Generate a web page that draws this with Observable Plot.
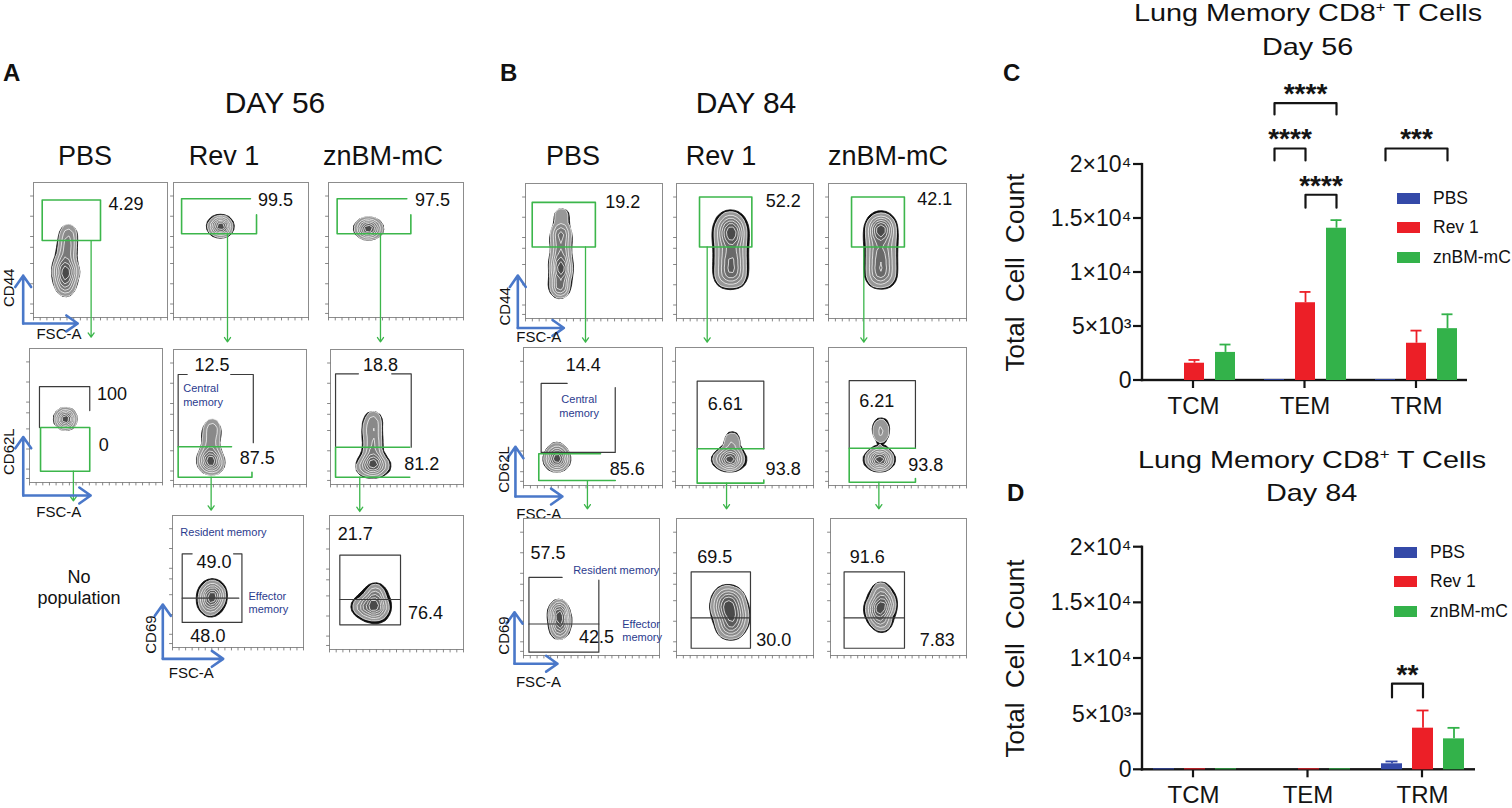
<!DOCTYPE html>
<html><head><meta charset="utf-8">
<script src="https://cdn.jsdelivr.net/npm/d3@7"></script>
<script src="https://cdn.jsdelivr.net/npm/@observablehq/plot@0.6"></script>
<style>
body{margin:0;background:#fff;font-family:"Liberation Sans",Arial,Helvetica,sans-serif;}
#fig{position:relative;width:1512px;height:808px;overflow:hidden;background:#fff;}
.abs{position:absolute;white-space:nowrap;color:#111;line-height:1;}
.lg-swatch{height:29.5px;margin:0 !important;padding:0 !important;display:flex;align-items:center;}
.lg-swatch > svg{margin-right:13px !important;}
.lg-swatch-label, .lg-swatch span{overflow:visible !important;text-overflow:clip !important;}
</style></head><body><div id="fig"></div>
<script>
// ---------------- DATA: bar charts ----------------
const categories = ["TCM", "TEM", "TRM"];
const groups = ["PBS", "Rev 1", "znBM-mC"];
const groupColors = ["#3449a8", "#ec1f27", "#33b24a"];
const yTicks = [0, 5000, 10000, 15000, 20000];
const yTickLabels = ["0", "5×10³", "1×10⁴", "1.5×10⁴", "2×10⁴"];

// Day 56 (panel C): means and upper SEM per category TCM, TEM, TRM
const day56PBS = [0, 80, 80];
const day56Rev1 = [1600, 7200, 3450];
const day56Zn = [2600, 14100, 4800];
const day56PBSErr = [0, 0, 0];
const day56Rev1Err = [300, 1000, 1170];
const day56ZnErr = [730, 750, 1330];
const day56Sig = [
  {cat: "TEM", from: "PBS", to: "znBM-mC", label: "****", level: 25680, low: 24630},
  {cat: "TEM", from: "PBS", to: "Rev 1", label: "****", level: 21480, low: 20370},
  {cat: "TEM", from: "Rev 1", to: "znBM-mC", label: "****", level: 17200, low: 16000},
  {cat: "TRM", from: "PBS", to: "znBM-mC", label: "***", level: 21480, low: 20370}
];

// Day 84 (panel D)
const day84PBS = [90, 0, 540];
const day84Rev1 = [90, 90, 3740];
const day84Zn = [90, 90, 2780];
const day84PBSErr = [0, 0, 210];
const day84Rev1Err = [0, 0, 1590];
const day84ZnErr = [0, 0, 990];
const day84Sig = [
  {cat: "TRM", from: "PBS", to: "Rev 1", label: "**", level: 7750, low: 6500}
];

// ---------------- DATA: flow cytometry panels (FSC-A / marker, 0-100 display units) ----------------
const flowPercents = [
  {panel:"a1", text:"4.29", x:69, y:84},
  {panel:"a2", text:"99.5", x:75.5, y:86.7},
  {panel:"a3", text:"97.5", x:77, y:86.7},
  {panel:"a4", text:"100", x:62, y:66},
  {panel:"a4", text:"0", x:55.9, y:27.6},
  {panel:"a5", text:"12.5", x:29, y:88},
  {panel:"a5", text:"87.5", x:63, y:19.5},
  {panel:"a6", text:"18.8", x:37.6, y:88.7},
  {panel:"a6", text:"81.2", x:68.6, y:15.3},
  {panel:"a8", text:"49.0", x:31.6, y:64.6},
  {panel:"a8", text:"48.0", x:27, y:8.3},
  {panel:"a9", text:"21.7", x:19.2, y:86},
  {panel:"a9", text:"76.4", x:71.6, y:27},
  {panel:"b1", text:"19.2", x:71, y:86},
  {panel:"b2", text:"52.2", x:78, y:87},
  {panel:"b3", text:"42.1", x:77, y:88},
  {panel:"b4", text:"14.4", x:43, y:87},
  {panel:"b4", text:"85.6", x:74.6, y:12},
  {panel:"b5", text:"6.61", x:36, y:59},
  {panel:"b5", text:"93.8", x:78, y:12},
  {panel:"b6", text:"6.21", x:35, y:61},
  {panel:"b6", text:"93.8", x:70.5, y:15},
  {panel:"b7", text:"57.5", x:18, y:74.7},
  {panel:"b7", text:"42.5", x:53.7, y:13.4},
  {panel:"b8", text:"69.5", x:28, y:72},
  {panel:"b8", text:"30.0", x:71, y:11.5},
  {panel:"b9", text:"91.6", x:27, y:72},
  {panel:"b9", text:"7.83", x:78.5, y:11}
];

const flowSubsetNames = [
  {panel:"a5", text:"Central", x:7.3, y:71, anchor:"start"},
  {panel:"a5", text:"memory", x:7.3, y:61, anchor:"start"},
  {panel:"a8", text:"Resident memory", x:6, y:87, anchor:"start"},
  {panel:"a8", text:"Effector", x:58, y:38.6, anchor:"start"},
  {panel:"a8", text:"memory", x:58, y:28.5, anchor:"start"},
  {panel:"b4", text:"Central", x:40, y:62, anchor:"middle"},
  {panel:"b4", text:"memory", x:40, y:52.4, anchor:"middle"},
  {panel:"b7", text:"Resident memory", x:36.5, y:62, anchor:"start"},
  {panel:"b7", text:"Effector", x:72.6, y:23, anchor:"start"},
  {panel:"b7", text:"memory", x:72.6, y:13.4, anchor:"start"}
];

const flowAxisNames = [
  {panel:"a1", text:"CD44", x:-18.4, y:22, rotate:-90},
  {panel:"a1", text:"FSC-A", x:19, y:-12.6, rotate:0},
  {panel:"a4", text:"CD62L", x:-15.6, y:23, rotate:-90},
  {panel:"a4", text:"FSC-A", x:22, y:-22, rotate:0},
  {panel:"a8", text:"CD69", x:-16.3, y:9.8, rotate:-90},
  {panel:"a8", text:"FSC-A", x:14.3, y:-19.5, rotate:0},
  {panel:"b1", text:"CD44", x:-14.6, y:9, rotate:-90},
  {panel:"b1", text:"FSC-A", x:9.7, y:-13.8, rotate:0},
  {panel:"b4", text:"CD62L", x:-13.7, y:11.6, rotate:-90},
  {panel:"b4", text:"FSC-A", x:11, y:-20.5, rotate:0},
  {panel:"b7", text:"CD69", x:-14, y:14.6, rotate:-90},
  {panel:"b7", text:"FSC-A", x:11, y:-19.5, rotate:0}
];

const flowAxisArrows = [
  {panel:"a1", x:-7.7, y:-4.4, top:31, right:33},
  {panel:"a4", x:-4.7, y:-9.7, top:34, right:46},
  {panel:"a8", x:-7.4, y:-8.6, top:32.6, right:38.7},
  {panel:"b1", x:-5.6, y:-7, top:31.8, right:28},
  {panel:"b4", x:-5.8, y:-8, top:28, right:28},
  {panel:"b7", x:-6.6, y:-6, top:31.6, right:25}
];

const flowArrows = [
  {panel:"a1", x:43, y1:57, y2:-14.6},
  {panel:"a2", x:40, y1:62, y2:-18},
  {panel:"a3", x:38.5, y1:62, y2:-18},
  {panel:"a4", x:33, y1:8.4, y2:-13.7},
  {panel:"a5", x:28.3, y1:5.4, y2:-19},
  {panel:"a6", x:22, y1:5.4, y2:-20},
  {panel:"b1", x:43.8, y1:53, y2:-17.5},
  {panel:"b2", x:22.4, y1:53, y2:-17.5},
  {panel:"b3", x:25.6, y1:53, y2:-17.5},
  {panel:"b4", x:46, y1:3.6, y2:-16.9},
  {panel:"b5", x:37, y1:1.7, y2:-16.9},
  {panel:"b6", x:36.5, y1:2.4, y2:-16.9}
];

const flowGates = [
  {panel:"a1", kind:"green", pts:[[6.5,57],[50,57],[50,87],[6.5,87],[6.5,57]]},
  {panel:"a2", kind:"green", pts:[[57,88],[6,88],[6,62],[61.5,62],[61.5,76]]},
  {panel:"a3", kind:"green", pts:[[58,88],[6.4,88],[6.4,62],[61,62],[61,76]]},
  {panel:"a4", kind:"black", pts:[[7.5,41],[7.5,71.6],[45.3,71.6],[45.3,53.7]]},
  {panel:"a4", kind:"green", pts:[[8.3,41],[45.3,41],[45.3,8.4],[8.3,8.4],[8.3,41]]},
  {panel:"a5", kind:"black", pts:[[3.5,28],[3.5,81.5],[10.3,81.5]]},
  {panel:"a5", kind:"black", pts:[[43,81.5],[60,81.5],[60,31]]},
  {panel:"a5", kind:"green", pts:[[43.6,28],[3.5,28],[3.5,5.4],[59,5.4],[59,9]]},
  {panel:"a6", kind:"black", pts:[[3.8,27.6],[3.8,82],[21,82]]},
  {panel:"a6", kind:"black", pts:[[46,82],[60.7,82],[60.7,27.6]]},
  {panel:"a6", kind:"green", pts:[[59.6,27.6],[3.8,27.6],[3.8,5.4],[59.6,5.4]]},
  {panel:"a8", kind:"black", pts:[[15,71],[7.4,71],[7.4,19],[53,19],[53,71],[46.6,71]]},
  {panel:"a8", kind:"black", pts:[[7.4,37.4],[50.6,37.4]]},
  {panel:"a9", kind:"black", pts:[[7.7,18.4],[53,18.4],[53,70.4],[7.7,70.4],[7.7,18.4]]},
  {panel:"a9", kind:"black", pts:[[7.7,37.3],[53,37.3]]},
  {panel:"b1", kind:"green", pts:[[4.9,53],[51,53],[51,86],[4.9,86],[4.9,53]]},
  {panel:"b2", kind:"green", pts:[[16.8,53],[55,53],[55,90],[16.8,90],[16.8,53]]},
  {panel:"b3", kind:"green", pts:[[16.7,53],[55,53],[55,90],[16.7,90],[16.7,53]]},
  {panel:"b4", kind:"black", pts:[[31.4,74],[12.7,74],[12.7,24],[66,24],[66,71]]},
  {panel:"b4", kind:"green", pts:[[55.4,23],[11,23],[11,3.6],[66,3.6]]},
  {panel:"b5", kind:"black", pts:[[15.7,26.6],[15.7,75.6],[64,75.6],[64,26.6]]},
  {panel:"b5", kind:"green", pts:[[64,26.6],[15.7,26.6],[15.7,1.7],[64,1.7],[64,4]]},
  {panel:"b6", kind:"black", pts:[[15,27],[15,76],[63,76],[63,27]]},
  {panel:"b6", kind:"green", pts:[[63,27],[15,27],[15,2.4],[63,2.4],[63,5]]},
  {panel:"b7", kind:"black", pts:[[28.4,57],[4,57],[4,2.4],[55.4,2.4],[55.4,55]]},
  {panel:"b7", kind:"black", pts:[[4,23],[55.4,23]]},
  {panel:"b8", kind:"black", pts:[[10.7,5.3],[54,5.3],[54,61],[10.7,61],[10.7,5.3]]},
  {panel:"b8", kind:"black", pts:[[10.7,27.5],[54,27.5]]},
  {panel:"b9", kind:"black", pts:[[10,5.3],[54.4,5.3],[54.4,61],[10,61],[10,5.3]]},
  {panel:"b9", kind:"black", pts:[[10,27.5],[54.4,27.5]]}
];

// events (read along each population's shape)
const flowCells = {
  a1: [[26,65],[26,61],[25.5,57],[25,53],[25,49],[24.5,46],[24,43],[23,40],[24,37],[24,35],[20,36],[28,35],[21,31],[27,32],[24,30],[23,28],[24,25],[24,23],[24,21]],
  a2: [[30,67.6],[33,67.6],[36,67.6],[39,67.6],[35,68.5],[35,66.5],[35,67.6]],
  a3: [[24,66],[27,66],[30,66],[33,66],[36,66],[30,67],[30,65],[28,66]],
  a4: [[27,47.5],[26,48],[28,47],[27,47.5]],
  a5: [[29,45],[29,41],[28.5,38],[28,34],[28,30],[28,26],[28,22],[28,17],[24,16.5],[32,16.5],[28,20],[28,13],[25,19],[31,14],[28,17],[28,17]],
  a6: [[32,50],[32,46],[31,42],[31,38],[32,34],[32,30],[32,26],[31,22],[32,18],[32,14],[27,14],[37,14],[24,13],[40,14],[32,17],[32,11],[32,14]],
  a8: [[30,38],[30,43],[30,32],[27,40],[33,36],[30,46],[29,29],[30,38],[30,38],[26,34],[34,42]],
  a9: [[33,34],[27,33],[38,34],[22,32],[33,41],[34,27],[35,43],[33,34],[29,29],[38,29]],
  b1: [[26,66],[26,62],[25.5,58],[26,53],[26,48],[25,43],[26,38],[26,33],[25,28],[25,24],[25,21],[26,40],[26,36],[26.3,76.6]],
  b2: [[35,29],[35,34],[36,40],[35,46],[36,52],[35,58],[35,63],[36,68],[37,72],[44,29],[43,34],[44,40],[43,46],[44,52],[43,58],[44,63],[43,68],[42,72],[40,62],[40,62],[40,45],[40,35]],
  b3: [[34,29],[35,34],[34,40],[35,46],[34,52],[34,58],[35,63],[35,68],[36,71],[42,29],[41,34],[42,40],[41,46],[42,52],[42,58],[41,63],[41,68],[40,71],[38,64],[38,64],[38,45],[38,35]],
  b4: [[24,19],[21,19],[27,19],[24,22],[24,27],[24,16],[24,19]],
  b5: [[31,19],[35,19],[39,19],[43,19],[46,19],[39,21],[39,17],[39,19],[41,29],[41,35]],
  b6: [[31,19],[34,19],[37,19],[40,19],[42,19],[37,21],[37,17],[37,19],[38,35],[38,40],[38,45]],
  b7: [[26,36],[26,32],[27,28],[27,24],[27,20],[26,17],[25,30],[27,26]],
  b8: [[39,32],[33,32],[45,32],[39,40],[39,24],[35,44],[43,42],[36,20],[42,19],[39,32],[33,38],[45,26]],
  b9: [[37,35],[32,36],[41,35],[37,43],[37,27],[37,48],[38,23],[37,35],[33,30],[41,40]]
};
const flowBandwidth = {a1:4,a2:3.5,a3:3.5,a4:3.5,a5:4,a6:4,a8:4.5,a9:4.5,b1:4,b2:5,b3:5,b4:4,b5:4,b6:4,b7:3.5,b8:5,b9:4.5};
const flowTicksX = [0,5,10,15,20,25,30,35,40,45,50,55,60,65,70,75,80,85,90,95,100];
const flowTicksY = [3,10,25,40,52,60,75,90];

// ---------------- LAYOUT (page geometry only) ----------------
const FONT = '"Liberation Sans", Arial, Helvetica, sans-serif';
const INK = "#141414";
const panelLayout = [
  {panel:"a1", left:33, top:182, w:134, h:135},
  {panel:"a2", left:173, top:182, w:135, h:135},
  {panel:"a3", left:328, top:182, w:135, h:135},
  {panel:"a4", left:29, top:348, w:133, h:134},
  {panel:"a5", left:173, top:349, w:133, h:135},
  {panel:"a6", left:330, top:349, w:133, h:135},
  {panel:"a8", left:172, top:515, w:131, h:132},
  {panel:"a9", left:329, top:515, w:134, h:134},
  {panel:"b1", left:525, top:183, w:137, h:135},
  {panel:"b2", left:676, top:183, w:137, h:135},
  {panel:"b3", left:828, top:183, w:138, h:135},
  {panel:"b4", left:523, top:347, w:139, h:138},
  {panel:"b5", left:675, top:347, w:138, h:138},
  {panel:"b6", left:828, top:347, w:138, h:138},
  {panel:"b7", left:523, top:518, w:136, h:137},
  {panel:"b8", left:676, top:518, w:137, h:137},
  {panel:"b9", left:830, top:518, w:136, h:137}
];

const fig = document.getElementById("fig");

function addText(html, x, baseline, size, opts = {}) {
  const {anchor = "start", weight = "normal", color = "#111"} = opts;
  const d = document.createElement("div");
  d.className = "abs";
  d.innerHTML = html;
  d.style.fontSize = size + "px";
  d.style.fontWeight = weight;
  d.style.color = color;
  d.style.left = x + "px";
  d.style.top = (baseline - 0.8465 * size) + "px";
  if (anchor === "middle") d.style.transform = "translateX(-50%)";
  fig.appendChild(d);
  return d;
}
function place(svg, left, top) {
  svg.style.position = "absolute";
  svg.style.left = left + "px";
  svg.style.top = top + "px";
  svg.style.maxWidth = "none";
  fig.appendChild(svg);
}

// ---------------- Flow panels ----------------
function drawPanel(L) {
  const id = L.panel;
  const M = 20;
  const cells = (flowCells[id] || []).map(([x, y]) => ({x, y}));
  const bw = flowBandwidth[id] || 4.5;
  const gateRows = flowGates.filter(g => g.panel === id)
    .flatMap((g, gi) => g.pts.map(([x, y]) => ({x, y, gid: gi, kind: g.kind})));
  const arrows = flowArrows.filter(a => a.panel === id);
  const ax = flowAxisArrows.filter(a => a.panel === id);
  const axArrows = ax.flatMap(a => [
    {x1: a.x, y1: a.y, x2: a.x, y2: a.top},
    {x1: a.x, y1: a.y, x2: a.right, y2: a.y}
  ]);
  const names = flowAxisNames.filter(a => a.panel === id);
  const subsets = flowSubsetNames.filter(a => a.panel === id);
  const tx = 2.5 * 100 / L.h, ty = 3 * 100 / L.w;
  const tickSegs = [
    ...flowTicksX.flatMap(v => [{id: "x" + v, x: v, y: 0}, {id: "x" + v, x: v, y: -tx}]),
    ...flowTicksY.flatMap(v => [{id: "y" + v, x: 0, y: v}, {id: "y" + v, x: -ty, y: v}])
  ];
  const marks = [
    Plot.frame({stroke: "#8c8c8c", strokeWidth: 1}),
    Plot.line(tickSegs, {x: "x", y: "y", z: "id", stroke: "#7a7a7a", strokeWidth: 0.9})
  ];
  if (cells.length && Plot.density) {
    marks.push(Plot.density(cells, {x: "x", y: "y", bandwidth: bw * 1.18, thresholds: 7, fill: "#0d0d0d", stroke: "#0d0d0d", strokeWidth: 0.8}));
    marks.push(Plot.density(cells, {x: "x", y: "y", bandwidth: bw, thresholds: 7, fill: "density", stroke: "#f4f4f4", strokeWidth: 0.8}));
  } else if (cells.length) {
    marks.push(Plot.dot(cells, {x: "x", y: "y", r: 4, fill: "#444"}));
  }
  marks.push(
    Plot.line(gateRows.filter(d => d.kind === "black"), {x: "x", y: "y", z: "gid", stroke: "#3b3b3b", strokeWidth: 1.2}),
    Plot.line(gateRows.filter(d => d.kind === "green"), {x: "x", y: "y", z: "gid", stroke: "#3cb64b", strokeWidth: 1.6}),
    Plot.arrow(arrows, {x1: "x", x2: "x", y1: "y1", y2: "y2", stroke: "#3cb64b", strokeWidth: 1.3, headLength: 6, headAngle: 70}),
    Plot.arrow(axArrows, {x1: "x1", y1: "y1", x2: "x2", y2: "y2", stroke: "#4a78c9", strokeWidth: 2.6, headLength: 8, headAngle: 70}),
    Plot.text(flowPercents.filter(d => d.panel === id), {x: "x", y: "y", text: "text", fill: "#111", fontSize: 18}),
    Plot.text(subsets.filter(d => d.anchor === "start"), {x: "x", y: "y", text: "text", fill: "#2b3b8e", fontSize: 11, textAnchor: "start"}),
    Plot.text(subsets.filter(d => d.anchor === "middle"), {x: "x", y: "y", text: "text", fill: "#2b3b8e", fontSize: 11}),
    Plot.text(names.filter(d => d.rotate === 0), {x: "x", y: "y", text: "text", fill: "#111", fontSize: 15}),
    Plot.text(names.filter(d => d.rotate !== 0), {x: "x", y: "y", text: "text", fill: "#111", fontSize: 15, rotate: -90})
  );
  const svg = Plot.plot({
    width: L.w + 2 * M, height: L.h + 2 * M,
    marginLeft: M, marginRight: M, marginTop: M, marginBottom: M,
    style: {background: "transparent", overflow: "visible", fontFamily: FONT, color: "#666"},
    x: {domain: [0, 100], axis: null},
    y: {domain: [0, 100], axis: null},
    color: {type: "linear", range: ["#a8a8a8", "#4a4a4a"]},
    marks
  });
  place(svg, L.left - M, L.top - M);
}
panelLayout.forEach(drawPanel);

// ---------------- Bar charts ----------------
function barChart(cfg) {
  const series = cfg.series, errs = cfg.errs;
  const rows = categories.flatMap((c, i) => groups.map((g, j) => ({cat: c, group: g, value: series[j][i], err: errs[j][i]})));
  const withErr = rows.filter(d => d.err > 0);
  const brackets = cfg.sig.flatMap((s, k) => [
    {id: k, cat: s.cat, group: s.from, y: s.low},
    {id: k, cat: s.cat, group: s.from, y: s.level},
    {id: k, cat: s.cat, group: s.to, y: s.level},
    {id: k, cat: s.cat, group: s.to, y: s.low}
  ]);
  const idx = g => groups.indexOf(g);
  const wideSig = cfg.sig.filter(s => idx(s.to) - idx(s.from) === 2).map(s => ({...s, mid: groups[1]}));
  const nearSig = cfg.sig.filter(s => idx(s.to) - idx(s.from) === 1);
  const frameW = cfg.width - cfg.mL - cfg.mR;
  const frameH = cfg.height - cfg.mT - cfg.mB;
  const common = {
    width: cfg.width, height: cfg.height,
    marginLeft: cfg.mL, marginRight: cfg.mR, marginTop: cfg.mT, marginBottom: cfg.mB,
    style: {background: "transparent", overflow: "visible", fontFamily: FONT, color: INK}
  };

  // axes layer: x spans the frame as 0..1; axis strokes are drawn as thin filled rectangles
  const band = d3.scaleBand().domain(categories).range([0, 1]).paddingInner(cfg.fxPad).paddingOuter(0);
  const catCenter = c => band(c) + band.bandwidth() / 2;
  const px = 1 / frameW, py = 20000 / frameH;
  const axisRects = [
    {x1: -1.2 * px, x2: 1.2 * px, y1: -1.2 * py, y2: 20000 + 1.1 * py},
    {x1: -1.2 * px, x2: 1 + cfg.endExtend * px, y1: -1.2 * py, y2: 1.2 * py},
    ...yTicks.map(v => ({x1: -9 * px, x2: 0, y1: v - 1.1 * py, y2: v + 1.1 * py})),
    ...categories.map(c => ({x1: catCenter(c) - 1.1 * px, x2: catCenter(c) + 1.1 * px, y1: -8 * py, y2: 0}))
  ];
  const axes = Plot.plot({
    ...common,
    x: {domain: [0, 1], axis: null},
    y: {domain: [0, 20000], axis: null},
    marks: [
      Plot.rect(axisRects, {x1: "x1", x2: "x2", y1: "y1", y2: "y2", fill: INK}),
      Plot.text(yTicks, {y: d => d, text: (d, i) => yTickLabels[i], frameAnchor: "left", textAnchor: "end", dx: -11, fontSize: 23, fill: INK}),
      Plot.text(categories, {x: catCenter, text: d => d, frameAnchor: "bottom", lineAnchor: "top", dy: 16, fontSize: 24, fill: INK}),
      Plot.text(["Total  Cell  Count"], {text: d => d, frameAnchor: "left", textAnchor: "middle", rotate: -90, dx: -127, fontSize: 26, fill: INK})
    ]
  });
  place(axes, cfg.left, cfg.top);

  // data layer (faceted grouped bars)
  const svg = Plot.plot({
    ...common,
    fx: {domain: categories, paddingInner: cfg.fxPad, paddingOuter: 0, axis: null},
    x: {domain: groups, paddingInner: cfg.xPadIn, paddingOuter: cfg.xPadOut, axis: null},
    y: {domain: [0, 20000], axis: null},
    color: {domain: groups, range: groupColors},
    marks: [
      Plot.barY(rows, {fx: "cat", x: "group", y: "value", fill: "group"}),
      Plot.ruleX(withErr, {fx: "cat", x: "group", y1: "value", y2: d => d.value + d.err, stroke: "group", strokeWidth: 1.8}),
      Plot.tickY(withErr, {fx: "cat", x: "group", y: d => d.value + d.err, stroke: "group", strokeWidth: 1.8, insetLeft: 4.5, insetRight: 4.5}),
      Plot.line(brackets, {fx: "cat", x: "group", y: "y", z: "id", stroke: INK, strokeWidth: 2.2}),
      Plot.text(wideSig, {fx: "cat", x: "mid", y: "level", text: "label", fontSize: 28, fontWeight: "bold", fill: INK, dy: -9}),
      Plot.text(nearSig, {fx: "cat", x: "from", y: "level", text: "label", fontSize: 28, fontWeight: "bold", fill: INK, dy: -9, dx: 15.5})
    ]
  });
  place(svg, cfg.left, cfg.top);

  const leg = Plot.legend({
    color: {domain: groups, range: groupColors},
    legend: "swatches", columns: 1, swatchWidth: 23, swatchHeight: 11, className: "lg",
    style: {fontSize: "17.5px", fontFamily: FONT, color: "#111", margin: "0"}
  });
  const lw = document.createElement("div");
  lw.style.position = "absolute";
  lw.style.left = cfg.legLeft + "px";
  lw.style.top = cfg.legTop + "px";
  lw.style.width = "140px";
  lw.appendChild(leg);
  fig.appendChild(lw);
}

barChart({
  series: [day56PBS, day56Rev1, day56Zn], errs: [day56PBSErr, day56Rev1Err, day56ZnErr], sig: day56Sig,
  left: 1000, top: 60, width: 480, height: 360, mL: 142, mR: 13, mT: 104, mB: 40,
  fxPad: 0.085, xPadIn: 0.355, xPadOut: 0.32, endExtend: 0,
  legLeft: 1397, legTop: 183.5
});
barChart({
  series: [day84PBS, day84Rev1, day84Zn], errs: [day84PBSErr, day84Rev1Err, day84ZnErr], sig: day84Sig,
  left: 1000, top: 420, width: 480, height: 388, mL: 142, mR: 7, mT: 126.7, mB: 38.7,
  fxPad: 0.109, xPadIn: 0.333, xPadOut: 0.31, endExtend: 2,
  legLeft: 1394, legTop: 537.5
});

// ---------------- Page texts ----------------
addText("A", 3, 81.7, 24, {weight: "bold"});
addText("B", 500, 81.7, 24, {weight: "bold"});
addText("C", 1003, 81.7, 24, {weight: "bold"});
addText("D", 1007, 501.7, 24, {weight: "bold"});
addText("DAY 56", 275, 113, 30, {anchor: "middle"});
addText("DAY 84", 746, 113, 30, {anchor: "middle"});
[["PBS", 85], ["Rev 1", 224], ["znBM-mC", 383]].forEach(([t, x]) => addText(t, x, 166, 27, {anchor: "middle"}));
[["PBS", 573], ["Rev 1", 721], ["znBM-mC", 888]].forEach(([t, x]) => addText(t, x, 166, 27, {anchor: "middle"}));
addText("No", 79, 583.3, 18, {anchor: "middle"});
addText("population", 79, 604, 18, {anchor: "middle"});

function title(lines, cx, baselines) {
  lines.forEach((t, i) => {
    const d = addText(t, 0, baselines[i], 24, {});
    const w = d.getBoundingClientRect().width;
    d.style.left = (cx - w * 1.2 / 2) + "px";
    d.style.transform = "scaleX(1.2)";
    d.style.transformOrigin = "0 0";
  });
}
title(["Lung Memory CD8<sup style='font-size:14px;vertical-align:9px;line-height:0'>+</sup> T Cells", "Day 56"], 1308, [21.7, 55]);
title(["Lung Memory CD8<sup style='font-size:14px;vertical-align:9px;line-height:0'>+</sup> T Cells", "Day 84"], 1311.7, [468.3, 501.7]);
</script></body></html>
